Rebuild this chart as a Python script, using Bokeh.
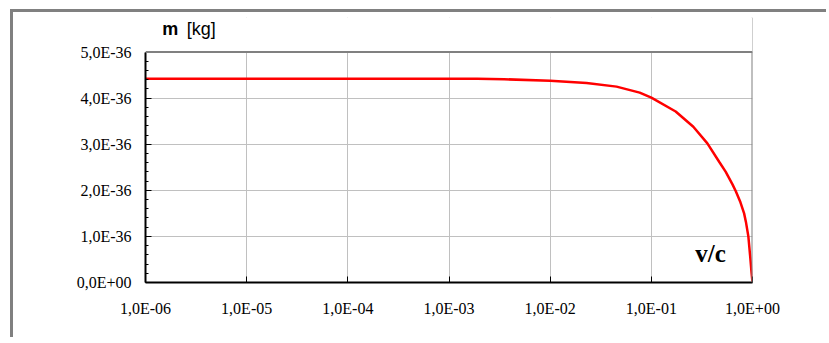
from bokeh.plotting import figure
from bokeh.models import Range1d, FixedTicker, Label, Span, BoxAnnotation
from bokeh.embed import file_html
from bokeh.resources import INLINE

# data
v_over_c = [1e-6, 1e-5, 1e-4, 1e-3, 0.0019, 0.0035, 0.01, 0.0229, 0.0453, 0.0767,
            0.1, 0.174, 0.26, 0.358, 0.468, 0.544, 0.634, 0.684, 0.76, 0.826,
            0.86, 0.91, 0.95, 0.98, 1.0]
mass_kg = [4.42e-36, 4.42e-36, 4.42e-36, 4.42e-36, 4.42e-36, 4.41e-36, 4.38e-36,
           4.33e-36, 4.25e-36, 4.12e-36, 4.01e-36, 3.71e-36, 3.38e-36, 3.02e-36,
           2.62e-36, 2.40e-36, 2.13e-36, 1.98e-36, 1.74e-36, 1.50e-36, 1.32e-36,
           1.0e-36, 0.55e-36, 0.2e-36, 0.0]

x_ticks = [1e-6, 1e-5, 1e-4, 1e-3, 1e-2, 1e-1, 1.0]
x_tick_labels = ["1,0E-06", "1,0E-05", "1,0E-04", "1,0E-03", "1,0E-02", "1,0E-01", "1,0E+00"]
y_ticks = [0.0, 1e-36, 2e-36, 3e-36, 4e-36, 5e-36]
y_tick_labels = ["0,0E+00", "1,0E-36", "2,0E-36", "3,0E-36", "4,0E-36", "5,0E-36"]
y_minor = [y_ticks[i] + k * (y_ticks[i + 1] - y_ticks[i]) / 5
           for i in range(len(y_ticks) - 1) for k in range(1, 5)]
x_min, x_max = x_ticks[0], x_ticks[-1]
y_min, y_max = y_ticks[0], y_ticks[-1]

# the frame extends above y_max to leave room for the "m [kg]" caption
p = figure(width=816, height=328, x_axis_type="log",
           x_range=Range1d(x_min, x_max), y_range=Range1d(y_min, 5.75e-36),
           output_backend="svg", toolbar_location=None,
           min_border_left=132, min_border_right=77, min_border_top=5, min_border_bottom=58)
p.styles = {"border-top": "3px solid #808080", "border-left": "3px solid #808080",
            "margin-top": "9px", "margin-left": "10px"}

p.outline_line_color = None
p.background_fill_color = "white"
p.border_fill_color = "white"

p.xaxis.ticker = FixedTicker(ticks=x_ticks, minor_ticks=[])
p.yaxis.ticker = FixedTicker(ticks=y_ticks, minor_ticks=y_minor)
p.xaxis.major_label_overrides = dict(zip(x_ticks, x_tick_labels))
p.yaxis.major_label_overrides = dict(zip(y_ticks, y_tick_labels))
p.yaxis.bounds = (y_min, y_max)

for ax in (p.xaxis, p.yaxis):
    ax.axis_line_color = "black"
    ax.axis_line_width = 2
    ax.major_tick_line_color = "black"
    ax.major_tick_line_width = 1
    ax.major_tick_in = 6
    ax.major_tick_out = 0
    ax.minor_tick_line_color = "black"
    ax.minor_tick_in = 3
    ax.minor_tick_out = 0
    ax.major_label_text_font = "Liberation Serif"
    ax.major_label_text_font_size = "16px"
    ax.major_label_text_color = "black"
p.xaxis.major_label_standoff = 17
p.yaxis.major_label_standoff = 14

p.xgrid.grid_line_color = "#c0c0c0"
p.ygrid.grid_line_color = "#c0c0c0"
p.xgrid.grid_line_width = 1
p.ygrid.grid_line_width = 1

p.line(v_over_c, mass_kg, line_color="#ff0000", line_width=2.5)

# plot-area border (right and top), caption strip blanked above y_max
p.add_layout(Span(location=x_max, dimension="height", line_color="#808080", line_width=2))
p.add_layout(BoxAnnotation(bottom=y_max, fill_color="white", fill_alpha=1.0,
                           line_alpha=0, level="annotation"))
p.add_layout(Span(location=y_max, dimension="width", line_color="#808080", line_width=2))

p.add_layout(Label(x=1.46e-6, y=5.5e-36, text="m", text_font="Liberation Sans",
                   text_font_style="bold", text_font_size="18px", text_color="black",
                   text_baseline="alphabetic"))
p.add_layout(Label(x=2.55e-6, y=5.5e-36, text="[kg]", text_font="Liberation Sans",
                   text_font_size="18px", text_color="black", text_baseline="alphabetic"))
p.add_layout(Label(x=0.272, y=0.62e-36, text="v/c", text_font="Liberation Serif",
                   text_font_style="bold", text_font_size="25px", text_color="black",
                   text_baseline="alphabetic"))

open("out.html", "w").write(file_html(p, INLINE))
